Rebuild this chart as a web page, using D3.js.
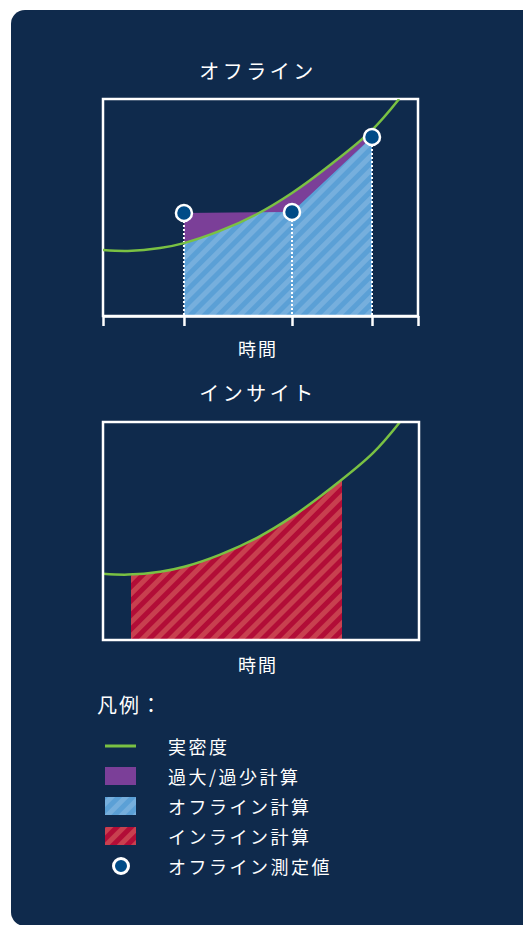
<!DOCTYPE html>
<html>
<head>
<meta charset="utf-8">
<script src="https://cdn.jsdelivr.net/npm/d3@7"></script>
<style>
  html, body { margin: 0; padding: 0; background: #ffffff; overflow: hidden; }
  svg { display: block; }
  text { font-family: "Noto Sans CJK JP", "Noto Sans", sans-serif; fill: #ffffff; }
</style>
</head>
<body>
<div id="chart"></div>
<script>
// 実密度カーブ（時間 0-10、密度 0-10）
const curveTime = [0, 0.79, 1.81, 2.57, 3.71, 4.89, 6.0, 7.21, 8.54, 9.40];
const curveDensity = [3.04, 3.0, 3.13, 3.36, 3.92, 4.70, 5.67, 6.96, 8.57, 10];

// オフライン測定値
const measureTime = [2.57, 6.0, 8.54];
const measureValue = [4.75, 4.79, 8.25];

// インライン計算の範囲
const inlineRange = [0.89, 7.56];

const axisTicks = [0, 2.57, 6.0, 8.54, 10];

const titles = ["オフライン", "インサイト"];
const axisLabel = "時間";
const legendTitle = "凡例：";
const legendLabels = ["実密度", "過大/過少計算", "オフライン計算", "インライン計算", "オフライン測定値"];

const colors = {
    panel: "#0f2a4c",
    green: "#7ac143",
    purple: "#7b3f98",
    blue: "#5ba0d6",
    blueStripe: "#76afdd",
    red: "#b20d37",
    redStripe: "#c8404f",
    point: "#004b87"
};

const W = 523, H = 925;
const svg = d3.select("#chart").append("svg").attr("width", W).attr("height", H);

// パネル背景
svg.append("rect")
    .attr("x", 11).attr("y", 10)
    .attr("width", 600).attr("height", 916)
    .attr("rx", 14)
    .attr("fill", colors.panel);

const defs = svg.append("defs");

function stripes(id, base, stripe) {
    const p = defs.append("pattern")
        .attr("id", id)
        .attr("patternUnits", "userSpaceOnUse")
        .attr("width", 10).attr("height", 10)
        .attr("patternTransform", "rotate(45)");
    p.append("rect").attr("width", 10).attr("height", 10).attr("fill", base);
    p.append("rect").attr("width", 5).attr("height", 10).attr("fill", stripe);
}
stripes("hatchBlue", colors.blue, colors.blueStripe);
stripes("hatchRed", colors.red, colors.redStripe);

const data = curveTime.map((t, i) => ({ t, d: curveDensity[i] }));
const measures = measureTime.map((t, i) => ({ t, d: measureValue[i] }));

function makePanel(top, bottom, right, idx) {
    const x = d3.scaleLinear().domain([0, 10]).range([103, right]);
    const y = d3.scaleLinear().domain([0, 10]).range([bottom, top]);
    const g = svg.append("g");

    defs.append("clipPath").attr("id", "box" + idx)
        .append("rect")
        .attr("x", x(0)).attr("y", y(10))
        .attr("width", x(10) - x(0)).attr("height", y(0) - y(10));

    const line = d3.line().x(d => x(d.t)).y(d => y(d.d)).curve(d3.curveCatmullRom);
    const underCurve = d3.area().x(d => x(d.t)).y0(y(0)).y1(d => y(d.d)).curve(d3.curveCatmullRom);

    return { x, y, g, line, underCurve };
}

// ---- オフライン ----
const p1 = makePanel(99, 316, 418, 1);

defs.append("clipPath").attr("id", "under1")
    .append("path").attr("d", p1.underCurve(data));
defs.append("clipPath").attr("id", "range1")
    .append("rect")
    .attr("x", p1.x(measureTime[0])).attr("y", p1.y(10))
    .attr("width", p1.x(measureTime[2]) - p1.x(measureTime[0]))
    .attr("height", p1.y(0) - p1.y(10));

const linear = d3.area().x(d => p1.x(d.t)).y0(p1.y(0)).y1(d => p1.y(d.d));

// 過大/過少（和集合を紫で、共通部分を青で上書き）
p1.g.append("path").attr("d", p1.underCurve(data))
    .attr("fill", colors.purple).attr("clip-path", "url(#range1)");
p1.g.append("path").attr("d", linear(measures)).attr("fill", colors.purple);
p1.g.append("path").attr("d", linear(measures))
    .attr("fill", "url(#hatchBlue)").attr("clip-path", "url(#under1)");

// 測定値からの点線
p1.g.selectAll(".drop").data(measures).enter().append("line")
    .attr("x1", d => p1.x(d.t)).attr("x2", d => p1.x(d.t))
    .attr("y1", d => p1.y(d.d) + 8).attr("y2", p1.y(0))
    .attr("stroke", "#fff").attr("stroke-width", 2)
    .attr("stroke-dasharray", "2,2");

// 枠
p1.g.append("rect")
    .attr("x", p1.x(0)).attr("y", p1.y(10))
    .attr("width", p1.x(10) - p1.x(0)).attr("height", p1.y(0) - p1.y(10))
    .attr("fill", "none").attr("stroke", "#fff").attr("stroke-width", 2.5);

p1.g.append("path").attr("d", p1.line(data))
    .attr("fill", "none").attr("stroke", colors.green).attr("stroke-width", 2.5)
    .attr("clip-path", "url(#box1)");

// 軸
const ax = p1.g.append("g")
    .attr("transform", `translate(0,${p1.y(0)})`)
    .call(d3.axisBottom(p1.x).tickValues(axisTicks).tickSize(10).tickSizeOuter(0).tickFormat(""));
ax.selectAll("path, line").attr("stroke", "#fff").attr("stroke-width", 2.5);

p1.g.selectAll(".pt").data(measures).enter().append("circle")
    .attr("cx", d => p1.x(d.t)).attr("cy", d => p1.y(d.d))
    .attr("r", 8)
    .attr("fill", colors.point).attr("stroke", "#fff").attr("stroke-width", 2.5);

svg.append("text").attr("x", 258).attr("y", 79)
    .attr("text-anchor", "middle").style("font-size", "20px").style("letter-spacing", "3.5px")
    .text(titles[0]);
svg.append("text").attr("x", 258).attr("y", 356)
    .attr("text-anchor", "middle").style("font-size", "18px").style("letter-spacing", "2px")
    .text(axisLabel);

// ---- インサイト ----
const p2 = makePanel(422, 640, 419, 2);

defs.append("clipPath").attr("id", "range2")
    .append("rect")
    .attr("x", p2.x(inlineRange[0])).attr("y", p2.y(10))
    .attr("width", p2.x(inlineRange[1]) - p2.x(inlineRange[0]))
    .attr("height", p2.y(0) - p2.y(10));

p2.g.append("path").attr("d", p2.underCurve(data))
    .attr("fill", "url(#hatchRed)").attr("clip-path", "url(#range2)");

p2.g.append("path").attr("d", p2.line(data))
    .attr("fill", "none").attr("stroke", colors.green).attr("stroke-width", 2.5)
    .attr("clip-path", "url(#box2)");

p2.g.append("rect")
    .attr("x", p2.x(0)).attr("y", p2.y(10))
    .attr("width", p2.x(10) - p2.x(0)).attr("height", p2.y(0) - p2.y(10))
    .attr("fill", "none").attr("stroke", "#fff").attr("stroke-width", 2.5);

svg.append("text").attr("x", 258).attr("y", 401)
    .attr("text-anchor", "middle").style("font-size", "20px").style("letter-spacing", "3.5px")
    .text(titles[1]);
svg.append("text").attr("x", 258).attr("y", 672)
    .attr("text-anchor", "middle").style("font-size", "18px").style("letter-spacing", "2px")
    .text(axisLabel);

// ---- 凡例 ----
svg.append("text").attr("x", 97).attr("y", 713)
    .style("font-size", "20px").style("letter-spacing", "2px")
    .text(legendTitle);

const legend = svg.append("g");
legendLabels.forEach((label, i) => {
    const cy = 746 + i * 30;
    if (i === 0) {
        legend.append("line").attr("x1", 105).attr("x2", 136).attr("y1", cy).attr("y2", cy)
            .attr("stroke", colors.green).attr("stroke-width", 3);
    } else if (i === 4) {
        legend.append("circle").attr("cx", 121).attr("cy", cy).attr("r", 7.5)
            .attr("fill", colors.point).attr("stroke", "#fff").attr("stroke-width", 3);
    } else {
        const fill = i === 1 ? colors.purple : i === 2 ? "url(#hatchBlue)" : "url(#hatchRed)";
        legend.append("rect").attr("x", 105).attr("y", cy - 9).attr("width", 31).attr("height", 18)
            .attr("fill", fill);
    }
    legend.append("text").attr("x", 168).attr("y", cy)
        .attr("dominant-baseline", "central")
        .style("font-size", "18px").style("letter-spacing", "2.5px")
        .text(label);
});
</script>
</body>
</html>
